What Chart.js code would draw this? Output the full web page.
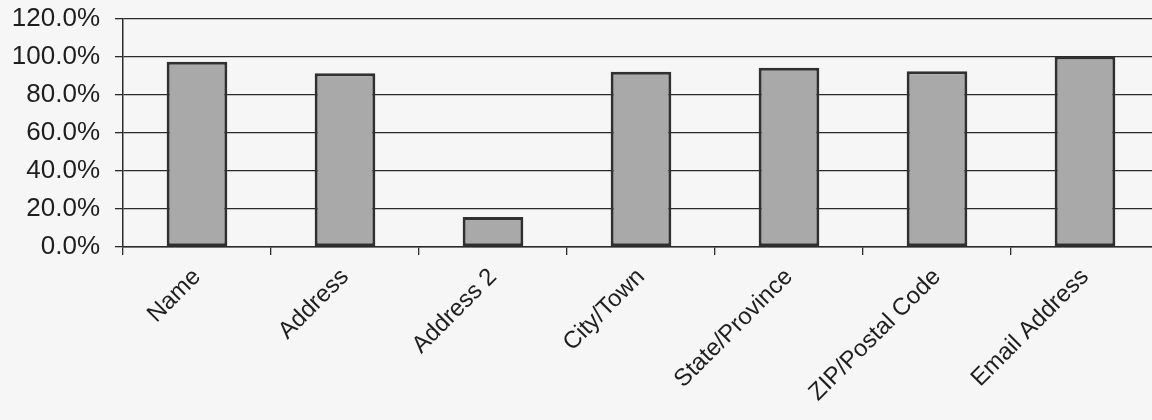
<!DOCTYPE html>
<html>
<head>
<meta charset="utf-8">
<script src="https://cdn.jsdelivr.net/npm/chart.js@4/dist/chart.umd.min.js"></script>
<style>
    html, body { margin: 0; padding: 0; background: #f6f6f6; overflow: hidden; }
    #wrap { width: 1160px; height: 420px; }
</style>
</head>
<body>
<div id="wrap"><canvas id="fieldChart"></canvas></div>
<script>
// fields on the form and the share of entries that filled each one in (%)
const fieldNames = ['Name', 'Address', 'Address 2', 'City/Town', 'State/Province', 'ZIP/Postal Code', 'Email Address'];
const fillRates = [97.5, 91.5, 15.8, 92.2, 94.3, 92.5, 100.3];
const yTicks = [0, 20, 40, 60, 80, 100, 120];

const inkColor = '#2b2b2b';

const ctx = document.getElementById('fieldChart').getContext('2d');
const fieldChart = new Chart(ctx, {
    type: 'bar',
    data: {
        labels: fieldNames,
        datasets: [{
            label: 'Filled in',
            data: fillRates,
            backgroundColor: '#a9a9a9',
            borderColor: '#303030',
            borderWidth: 3,
            borderSkipped: false,
            categoryPercentage: 1.0,
            barPercentage: 0.41
        }]
    },
    options: {
        responsive: true,
        maintainAspectRatio: false,
        animation: false,
        layout: { padding: { top: 19, left: 0, right: 1, bottom: 0 } },
        plugins: {
            legend: { display: false },
            tooltip: { enabled: false }
        },
        scales: {
            x: {
                offset: true,
                grid: {
                    offset: true,
                    drawOnChartArea: false,
                    drawTicks: true,
                    tickLength: 8,
                    color: inkColor,
                    lineWidth: 1.3
                },
                border: { color: inkColor, width: 1.5 },
                ticks: {
                    maxRotation: 45,
                    minRotation: 45,
                    padding: 8,
                    color: '#1e1e1e',
                    font: { family: 'Liberation Sans, Arial, sans-serif', size: 24 }
                },
                afterFit: scale => { scale.height = 173; }
            },
            y: {
                min: 0,
                max: 120,
                afterBuildTicks: scale => {
                    scale.ticks = yTicks.map(v => ({ value: v }));
                },
                grid: {
                    color: inkColor,
                    lineWidth: 1.3,
                    tickLength: 8
                },
                border: { color: inkColor, width: 1.5 },
                ticks: {
                    padding: 15,
                    color: '#1e1e1e',
                    font: { family: 'Liberation Sans, Arial, sans-serif', size: 26 },
                    callback: v => v.toFixed(1) + '%'
                },
                afterFit: scale => {
                    scale.width = 123;
                    // keep the tick padding from pushing the plot down
                    scale.paddingTop = 0;
                    scale.paddingBottom = 0;
                }
            }
        }
    }
});
</script>
</body>
</html>
